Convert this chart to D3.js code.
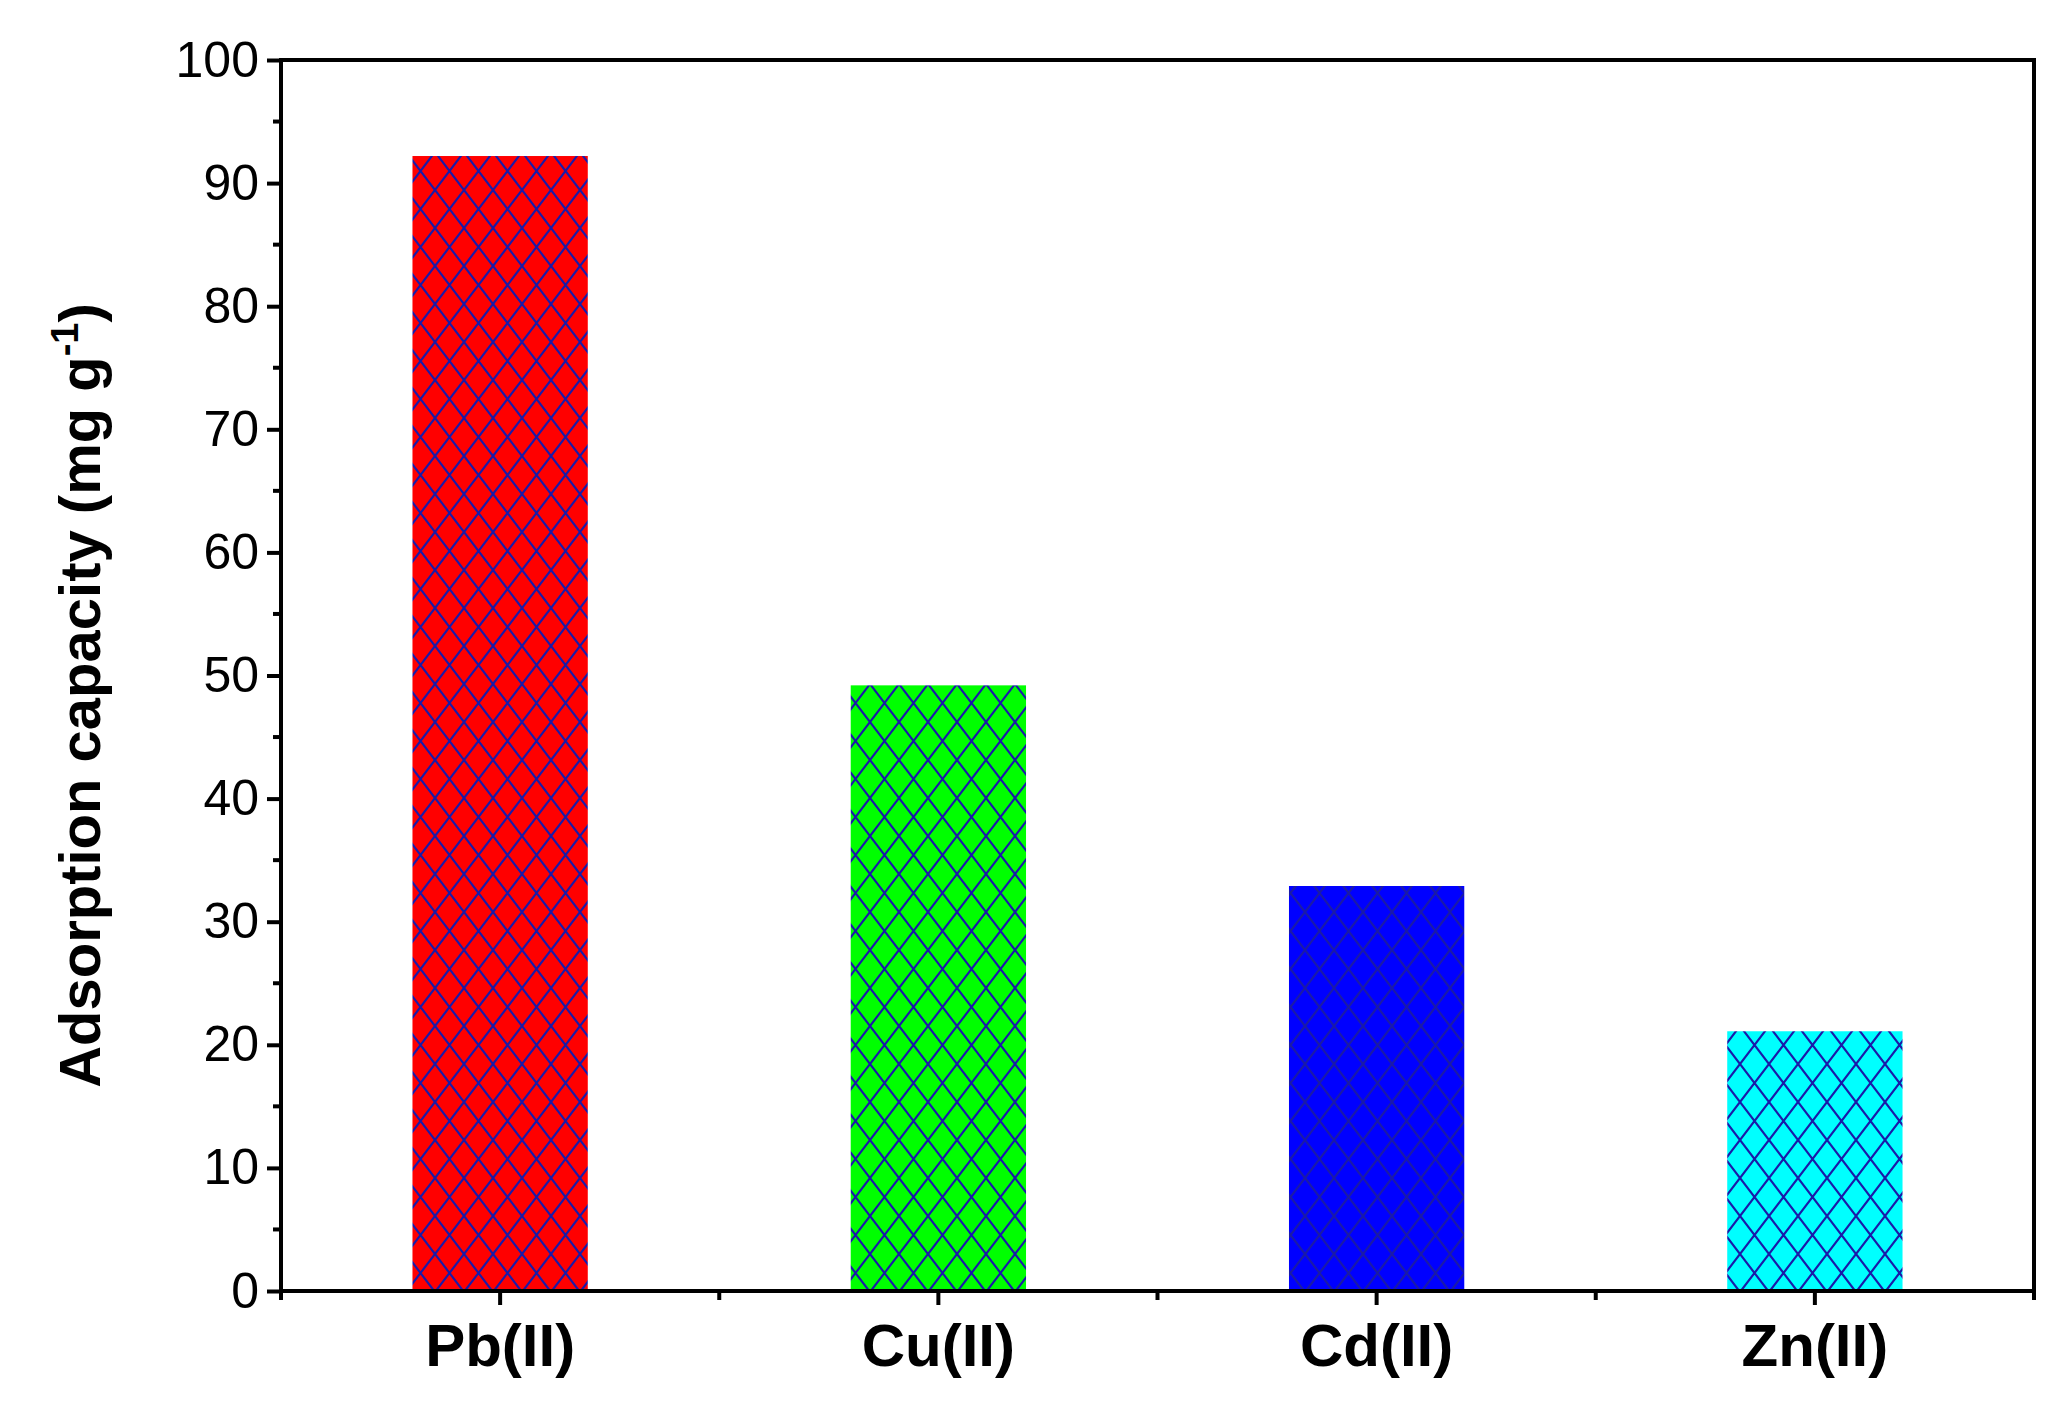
<!DOCTYPE html>
<html><head><meta charset="utf-8">
<script src="https://cdn.jsdelivr.net/npm/d3@7/dist/d3.min.js"></script>
<style>body{margin:0;background:#fff}</style></head>
<body><svg id="c" width="2056" height="1419"></svg>
<script>
const categories = ["Pb(II)", "Cu(II)", "Cd(II)", "Zn(II)"];
const values = [92.2, 49.2, 32.9, 21.1];
const colors = ["#ff0000", "#00ff00", "#0000ff", "#00ffff"];
const yTicks = [0,10,20,30,40,50,60,70,80,90,100];

const svg = d3.select("#c");
const L=281, R=2034, T=60, B=1291;
const x = d3.scaleBand().domain(categories).range([L,R]).paddingInner(0).paddingOuter(0);
const y = d3.scaleLinear().domain([0,100]).range([B,T]);
const font = "Arial, 'Liberation Sans', sans-serif";

const defs = svg.append("defs");
const pw=29, ph=38;
colors.forEach((c,i)=>{
  const p = defs.append("pattern").attr("id","h"+i).attr("patternUnits","userSpaceOnUse")
    .attr("width",pw).attr("height",ph).attr("x",0).attr("y",0);
  p.append("rect").attr("width",pw).attr("height",ph).attr("fill",c);
  p.append("path").attr("d",`M0,0L${pw},${ph}M${pw},0L0,${ph}`).attr("stroke","#1a1aa8").attr("stroke-width",2.2).attr("fill","none");
});

const bw = x.bandwidth()*0.4;
svg.selectAll(".bar").data(categories).enter().append("rect")
  .attr("x",d=>x(d)+x.bandwidth()/2-bw/2).attr("width",bw)
  .attr("y",(d,i)=>y(values[i])).attr("height",(d,i)=>B-y(values[i]))
  .attr("fill",(d,i)=>`url(#h${i})`);

// frame
svg.append("rect").attr("x",L).attr("y",T).attr("width",R-L).attr("height",B-T)
  .attr("fill","none").attr("stroke","#000").attr("stroke-width",4);

// y axis
const ya = svg.append("g").attr("transform",`translate(${L},0)`)
  .call(d3.axisLeft(y).tickValues(yTicks).tickSize(14).tickPadding(8));
ya.select(".domain").remove();
ya.selectAll("line").attr("stroke-width",4);
ya.selectAll("text").attr("font-family",font).attr("font-size",50);
const minorY = d3.range(5,100,10);
svg.selectAll(".my").data(minorY).enter().append("line")
  .attr("x1",L-8).attr("x2",L).attr("y1",d=>y(d)).attr("y2",d=>y(d))
  .attr("stroke","#000").attr("stroke-width",4);

// x axis
const xa = svg.append("g").attr("transform",`translate(0,${B})`)
  .call(d3.axisBottom(x).tickSize(14).tickPadding(18));
xa.select(".domain").remove();
xa.selectAll("line").attr("stroke-width",4);
xa.selectAll("text").attr("font-family",font).attr("font-size",60).attr("font-weight","bold");
const edges = categories.map(c=>x(c)).concat([R]);
svg.selectAll(".mx").data(edges).enter().append("line")
  .attr("x1",d=>d).attr("x2",d=>d).attr("y1",B).attr("y2",B+9)
  .attr("stroke","#000").attr("stroke-width",4);

// y title
const t = svg.append("text").attr("transform",`translate(100,${(T+B)/2+20}) rotate(-90)`)
  .attr("text-anchor","middle").attr("font-family",font).attr("font-size",58).attr("font-weight","bold");
t.append("tspan").text("Adsorption capacity (mg g");
t.append("tspan").attr("dy",-22).attr("font-size",38).text("-1");
t.append("tspan").attr("dy",22).text(")");
</script></body></html>
